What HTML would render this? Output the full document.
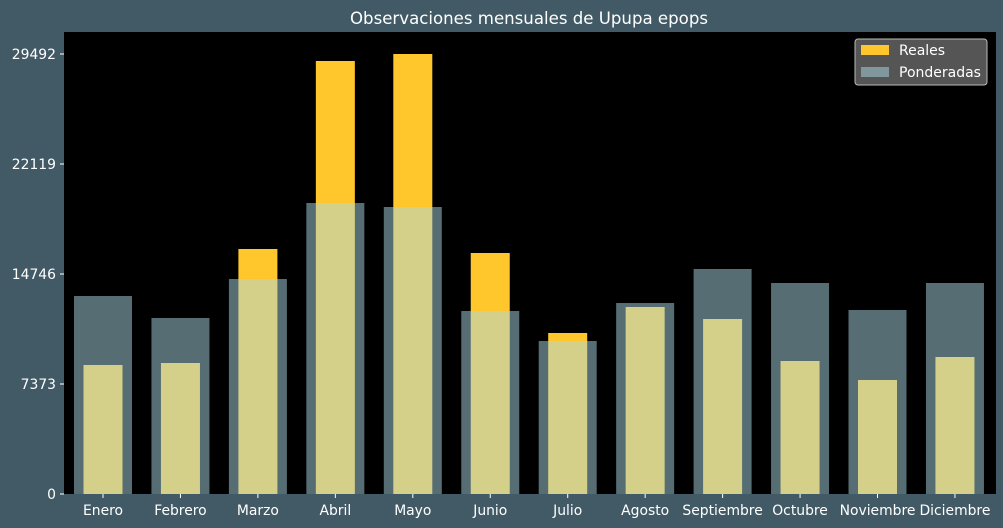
<!DOCTYPE html>
<html><head><meta charset="utf-8"><style>
body{margin:0;background:#425a66;}
svg{display:block;font-family:"DejaVu Sans","Liberation Sans",sans-serif;}
</style></head><body>
<svg id="chart" width="1003" height="528">
<rect width="1003" height="528" fill="#425a66"/>
<text x="529" y="24" text-anchor="middle" fill="#fff" font-size="16.6">Observaciones mensuales de Upupa epops</text>
<rect x="64" y="32" width="932" height="462" fill="#000"/>
<g id="bars"></g><g id="axes"></g>
<g>
<rect x="855" y="39" width="132" height="46" rx="3" fill="#555" stroke="#bbb" stroke-width="1"/>
<rect x="861" y="45" width="28" height="10" fill="#ffc72c"/>
<text x="899" y="55" fill="#fff" font-size="14">Reales</text>
<rect x="861" y="67" width="28" height="10" fill="#acdae6" fill-opacity="0.5"/>
<text x="899" y="77" fill="#fff" font-size="14">Ponderadas</text>
</g>
</svg>
<script>
const categories=["Enero","Febrero","Marzo","Abril","Mayo","Junio","Julio","Agosto","Septiembre","Octubre","Noviembre","Diciembre"];
const reales=[8647,8781,16422,29023,29492,16154,10792,12534,11730,8915,7641,9183];
const ponderadas=[13272,11797,14411,19505,19237,12266,10255,12802,15081,14143,12333,14143];
const yTicks=[0,7373,14746,22119,29492];
const NS="http://www.w3.org/2000/svg";
const y0=494,pxPer=110/7373;
function yS(v){return y0-v*pxPer;}
function xS(i){return 103+i*77.45;}
const bars=document.getElementById('bars'),axes=document.getElementById('axes');
function mk(t,a,p){const e=document.createElementNS(NS,t);for(const k in a)e.setAttribute(k,a[k]);p.appendChild(e);return e;}
reales.forEach((v,i)=>{
 const r=mk('rect',{x:xS(i)-19.5,y:yS(v),width:39,height:y0-yS(v),fill:'#ffc72c'},bars);
 
 
});
ponderadas.forEach((v,i)=>{
 const r=mk('rect',{x:xS(i)-29,y:yS(v),width:58,height:y0-yS(v),fill:'#acdae6','fill-opacity':0.5},bars);
 
 
});
categories.forEach((c,i)=>{
 mk('line',{x1:xS(i),x2:xS(i),y1:494,y2:498,stroke:'#fff'},axes);
 const t=mk('text',{x:xS(i),y:515,'text-anchor':'middle',fill:'#fff','font-size':13.9},axes);
 t.textContent=c;
 
 
});
yTicks.forEach(v=>{
 mk('line',{x1:60,x2:64,y1:yS(v),y2:yS(v),stroke:'#fff'},axes);
 const t=mk('text',{x:56,y:yS(v)+5,'text-anchor':'end',fill:'#fff','font-size':13.9},axes);
 t.textContent=v;
 
 
});
</script>
</body></html>
